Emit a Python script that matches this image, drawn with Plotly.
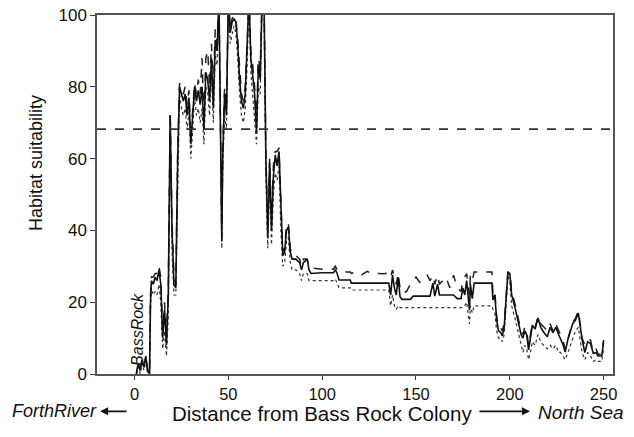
import plotly.graph_objects as go

distance = [1, 2, 3, 4, 5, 6, 7, 8, 8.5, 9, 10, 11, 12, 13, 14, 15, 16, 17, 18, 19, 20, 21, 22, 23, 24, 25, 26, 27, 28, 29,
            30, 31, 32, 33, 34, 35, 36, 37, 38, 39, 40, 41, 42, 43, 44, 45, 46, 46.5, 47, 48, 49, 50, 51, 52, 53, 54, 55, 56, 57, 58,
            59, 60, 61, 62, 63, 64, 65, 66, 67, 68, 69, 70, 71, 72, 73, 74, 75, 76, 77, 78, 79, 80, 81, 82, 83, 84, 86, 88, 89, 90,
            92, 93, 94, 100, 106, 107, 108, 109, 115, 115.5, 118, 121, 124, 127, 130, 133, 135.5, 136.5, 137.5, 138.5, 139.5, 140.5, 141.5, 142.5,
            145, 147, 148.5, 150, 152, 154, 156, 157.5, 159, 160, 161.5, 162.5, 164, 166, 168, 170, 172, 174, 175, 176,
            177, 178, 178.5, 179, 180, 181, 190.5, 191, 192, 193, 194, 195, 196, 197, 198, 199, 200, 201, 203, 205,
            206, 207, 208, 209, 210, 211, 212, 213.5, 215, 216.5, 218, 220, 221.5, 223, 224.5, 226, 227, 228.5, 229.5, 231,
            233.5, 235, 236.5, 237.5, 238.5, 240, 241.5, 243, 244.5, 246, 247, 249, 250]

mean_hs = [0, 3, 1, 4, 2, 5, 1, 0, 20, 26, 25, 27, 26, 29, 25, 10, 18, 8, 22, 72, 40, 25, 24, 60, 80, 78, 76, 78, 72, 77,
           64, 72, 80, 76, 79, 75, 80, 68, 84, 82, 76, 88, 74, 93, 90, 105, 60, 37, 60, 78, 72, 105, 95, 98, 99, 98, 92, 82, 76, 74,
           78, 90, 105, 88, 82, 78, 67, 86, 82, 105, 105, 60, 38, 59, 40, 55, 61, 58, 62, 45, 33, 34, 40, 41, 34, 32, 32, 31, 29, 31,
           32, 29, 28, 28.2, 28.2, 29, 28, 26.2, 26.2, 25.3, 25.3, 25.3, 25.3, 25.3, 25.3, 25.3, 25.3, 22, 27.6, 24, 22, 27, 21.5, 20.8,
           20.8, 20.8, 21.7, 21.7, 21.7, 21.7, 21.7, 21.7, 25.3, 21.7, 25, 22, 22, 22, 22, 22, 21, 21, 24, 22,
           26, 20, 17.8, 25, 21, 25.3, 25.3, 20.6, 22, 15, 12, 11.7, 10.6, 13, 22, 28.4, 28, 22, 18, 13,
           11, 10, 12, 11, 6.7, 10, 13.6, 12.5, 15.6, 13, 11.7, 10.4, 13, 11.5, 13, 11, 9.7, 8, 6.1, 9.7,
           14, 15, 17, 13, 9.7, 6, 9, 8.5, 5.7, 6, 5, 5, 9]

upper_hs = [0, 3, 1, 4, 2, 5, 1, 0, 22, 27, 27, 28, 28, 30, 27, 12, 20, 10, 24, 73, 42, 27, 25, 62, 81, 80, 78, 80, 75, 79,
            66, 74, 81, 78, 82, 78, 88, 70, 88, 90, 80, 92, 78, 96, 92, 105, 62, 38, 62, 80, 74, 105, 96, 99, 100, 99, 93, 84, 78, 76,
            80, 92, 105, 90, 86, 80, 70, 88, 85, 105, 105, 62, 40, 60, 42, 58, 62, 62, 63, 48, 34, 35, 42, 42, 35, 33, 33, 32, 30, 32,
            32, 30, 29.5, 29.2, 29.2, 30, 29, 28.5, 28.4, 28, 28.4, 27.6, 28.6, 27.8, 28, 27.9, 28.2, 27, 29, 27, 25, 28, 24, 22.5,
            23, 25, 26, 27, 25.5, 26.5, 27.5, 26, 27.5, 25, 27.5, 25, 26, 27, 24, 27.5, 24, 23, 26, 27,
            28, 24, 22, 27.5, 26, 28.4, 28.4, 22, 23, 16, 13, 13, 12, 14, 23, 28.4, 28.4, 23, 19, 14,
            12, 11, 13, 12, 8, 11, 14, 13, 16, 14, 13, 12, 14, 12, 14, 12, 11, 9, 7, 10,
            14.5, 15.5, 17.5, 14, 10, 8, 9.5, 9.5, 6, 7, 5.5, 5.5, 9.5]

lower_hs = [0, 2, 0, 3, 1, 4, 0, 0, 18, 24, 22, 23, 22, 25, 20, 7, 12, 5, 16, 68, 34, 22, 22, 55, 78, 74, 72, 74, 68, 73,
            60, 68, 77, 72, 74, 70, 74, 64, 80, 78, 72, 84, 70, 89, 86, 105, 55, 35, 58, 72, 68, 105, 92, 95, 97, 95, 88, 78, 72, 70,
            74, 86, 105, 84, 78, 72, 64, 80, 78, 105, 105, 55, 35, 55, 36, 50, 56, 54, 58, 40, 30, 31, 37, 38, 31, 29, 29, 28, 26, 28,
            28, 26, 26, 26, 26, 26.5, 25, 24, 24, 23.4, 23.4, 23.4, 23.4, 23.4, 23.4, 23.4, 23.4, 19, 22, 19, 18, 19, 18.5, 18.5,
            18.5, 18.5, 18.5, 18.5, 18.5, 18.5, 18.5, 18.5, 18.5, 18.5, 18.5, 18.5, 18.5, 18.5, 18.5, 18.5, 18.5, 18.5, 18.5, 19,
            20, 16, 14, 19, 17, 19, 19, 18, 17, 12, 10, 10, 9, 11, 20, 27, 26, 19, 15, 10,
            8, 6, 8, 7, 4, 6, 9, 8, 11, 9, 8, 7, 8, 7, 8, 6, 6, 5, 4, 6,
            10, 12, 13, 10, 6, 4, 6, 5, 3.5, 4, 3.5, 3.5, 7]

threshold = 68.2

fig = go.Figure()
fig.add_trace(go.Scatter(x=distance, y=lower_hs, mode="lines",
                         line=dict(color="#333333", width=1.2, dash="dot"), showlegend=False))
fig.add_trace(go.Scatter(x=distance, y=upper_hs, mode="lines",
                         line=dict(color="#222222", width=1.5, dash="dash"), showlegend=False))
fig.add_trace(go.Scatter(x=distance, y=mean_hs, mode="lines",
                         line=dict(color="#111111", width=1.6), showlegend=False))

fig.add_hline(y=threshold, line=dict(color="#333333", width=1.6, dash="dash"))

font = "Liberation Sans, Arial, sans-serif"

fig.update_layout(
    width=634, height=437,
    margin=dict(l=97, r=21, t=15, b=63),
    paper_bgcolor="white", plot_bgcolor="white",
    font=dict(family=font, color="#111111"),
    xaxis=dict(range=[-20, 255], tickvals=[0, 50, 100, 150, 200, 250], automargin=False,
               showgrid=False, zeroline=False, showline=True, linecolor="#555555", linewidth=1.5,
               mirror=True, ticks="outside", ticklen=4, tickcolor="#333333",
               ticklabeloverflow="allow", tickfont=dict(size=16.5, family=font)),
    yaxis=dict(range=[0, 100], tickvals=[0, 20, 40, 60, 80, 100], automargin=False,
               showgrid=False, zeroline=False, showline=True, linecolor="#555555", linewidth=1.5,
               mirror=True, ticks="outside", ticklen=5, tickcolor="#333333",
               ticklabeloverflow="allow", tickfont=dict(size=17, family=font)),
)

fig.add_annotation(x=-0.118, y=0.588, xref="paper", yref="paper", text="Habitat suitability",
                   textangle=-90, showarrow=False, font=dict(size=18, family=font),
                   xanchor="center", yanchor="middle")
fig.add_annotation(x=0.436, y=-0.11, xref="paper", yref="paper", text="Distance from Bass Rock Colony",
                   showarrow=False, font=dict(size=20.5, family=font), yanchor="middle")
fig.add_annotation(x=0.003, y=-0.104, xref="paper", yref="paper", text="<i>ForthRiver</i>",
                   showarrow=False, font=dict(size=18, family=font), xanchor="right", yanchor="middle")
fig.add_annotation(x=0.85, y=-0.106, xref="paper", yref="paper", text="<i>North Sea</i>",
                   showarrow=False, font=dict(size=19, family=font), xanchor="left", yanchor="middle")
# arrows (offsets in pixels)
fig.add_annotation(x=0.006, y=-0.104, xref="paper", yref="paper", ax=28, ay=0,
                   text="", showarrow=True,
                   arrowhead=2, arrowsize=1, arrowwidth=1.6, arrowcolor="#111111")
fig.add_annotation(x=0.839, y=-0.104, xref="paper", yref="paper", ax=-52, ay=0,
                   text="", showarrow=True,
                   arrowhead=2, arrowsize=1, arrowwidth=1.6, arrowcolor="#111111")
fig.add_annotation(x=1.2, y=12.5, xref="x", yref="y", text="<i>BassRock</i>", textangle=-90,
                   showarrow=False, font=dict(size=16, family=font))

fig.write_html("out.html", config={"displayModeBar": False},
               post_script="document.body.style.margin='0';")
